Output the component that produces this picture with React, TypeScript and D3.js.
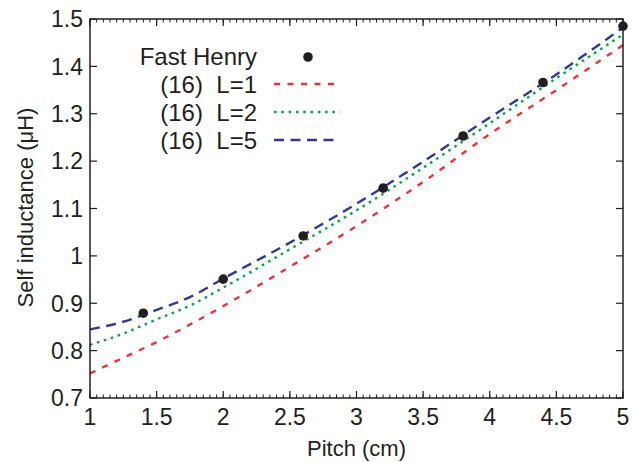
import React from "react";
import * as d3 from "d3";

const width = 633;
const height = 462;
const margin = { top: 19, right: 10, bottom: 64, left: 90 };

// FastHenry reference points
const fhPitch = [1.4, 2.0, 2.6, 3.2, 3.8, 4.4, 5.0];
const fhValue = [0.879, 0.951, 1.042, 1.143, 1.253, 1.366, 1.485];

// formula (16) curves
const pitch = [1, 1.25, 1.5, 1.75, 2, 2.5, 3, 3.5, 4, 4.5, 5];
const l1 = [0.752, 0.785, 0.818, 0.855, 0.894, 0.977, 1.063, 1.156, 1.257, 1.35, 1.445];
const l2 = [0.812, 0.836, 0.866, 0.895, 0.933, 1.014, 1.096, 1.186, 1.28, 1.375, 1.467];
const l5 = [0.845, 0.861, 0.886, 0.913, 0.952, 1.028, 1.11, 1.199, 1.292, 1.383, 1.482];

const xTicks = [1, 1.5, 2, 2.5, 3, 3.5, 4, 4.5, 5];
const yTicks = [0.7, 0.8, 0.9, 1, 1.1, 1.2, 1.3, 1.4, 1.5];

const series = [
  { label: "(16)\u00a0\u00a0L=1", values: l1, color: "#e8343c", dash: "6,7.5" },
  { label: "(16)\u00a0\u00a0L=2", values: l2, color: "#0aa24e", dash: "2.6,4.7" },
  { label: "(16)\u00a0\u00a0L=5", values: l5, color: "#2e3a93", dash: "10,6.5" },
];

const font = "'Liberation Sans', Arial, Helvetica, sans-serif";
const ink = "#231f20";

export default function App() {
  const x = d3.scaleLinear().domain([1, 5]).range([margin.left, width - margin.right]);
  const y = d3.scaleLinear().domain([0.7, 1.5]).range([height - margin.bottom, margin.top]);

  const line = d3
    .line<number>()
    .x((_, i) => x(pitch[i]))
    .y((d) => y(d))
    .curve(d3.curveMonotoneX);

  const x0 = x.range()[0];
  const x1 = x.range()[1];
  const y0 = y.range()[0];
  const y1 = y.range()[1];

  const minor = d3.range(1, 5.0001, 0.05).map((v) => +v.toFixed(2));

  return (
    <svg
      width={width}
      height={height}
      style={{ position: "absolute", left: 0, top: 0, background: "#fff" }}
      fontFamily={font}
    >
      {/* minor x ticks, bottom and top */}
      {minor.map((v, i) => (
        <g key={"m" + i} stroke={ink} strokeWidth={1}>
          <line x1={x(v)} x2={x(v)} y1={y0} y2={y0 - 3.5} />
          <line x1={x(v)} x2={x(v)} y1={y1} y2={y1 + 3.5} />
        </g>
      ))}
      {xTicks.map((v) => (
        <g key={"x" + v}>
          <line x1={x(v)} x2={x(v)} y1={y0} y2={y0 - 7} stroke={ink} strokeWidth={1.2} />
          <line x1={x(v)} x2={x(v)} y1={y1} y2={y1 + 7} stroke={ink} strokeWidth={1.2} />
          <text x={x(v)} y={425} textAnchor="middle" fontSize={23} fill={ink}>
            {v}
          </text>
        </g>
      ))}
      {yTicks.map((v) => (
        <g key={"y" + v}>
          <line x1={x0} x2={x0 + 7} y1={y(v)} y2={y(v)} stroke={ink} strokeWidth={1.2} />
          <line x1={x1} x2={x1 - 7} y1={y(v)} y2={y(v)} stroke={ink} strokeWidth={1.2} />
          <text x={83} y={y(v) + 8.3} textAnchor="end" fontSize={23} fill={ink}>
            {v}
          </text>
        </g>
      ))}

      {series.map((s) => (
        <path
          key={s.label}
          d={line(s.values) || ""}
          fill="none"
          stroke={s.color}
          strokeWidth={2.4}
          strokeDasharray={s.dash}
        />
      ))}

      {fhPitch.map((p, i) => (
        <circle key={"p" + i} cx={x(p)} cy={y(fhValue[i])} r={4.8} fill={ink} />
      ))}

      <rect x={x0} y={y1} width={x1 - x0} height={y0 - y1} fill="none" stroke={ink} strokeWidth={1.5} />

      {/* legend */}
      <g fontSize={24} fill={ink} textAnchor="end">
        <text x={257} y={65}>Fast Henry</text>
        <circle cx={308} cy={57} r={4.8} fill={ink} />
        {series.map((s, i) => (
          <g key={"lg" + i}>
            <text x={257} y={93 + i * 28}>
              {s.label}
            </text>
            <line
              x1={274}
              x2={340}
              y1={84 + i * 28}
              y2={84 + i * 28}
              stroke={s.color}
              strokeWidth={2.4}
              strokeDasharray={s.dash}
            />
          </g>
        ))}
      </g>

      <text x={x((1 + 5) / 2)} y={456} textAnchor="middle" fontSize={22} fill={ink}>
        Pitch (cm)
      </text>
      <text
        transform={`translate(33,${207.5}) rotate(-90)`}
        textAnchor="middle"
        fontSize={22}
        fill={ink}
      >
        Self inductance (μH)
      </text>
    </svg>
  );
}
